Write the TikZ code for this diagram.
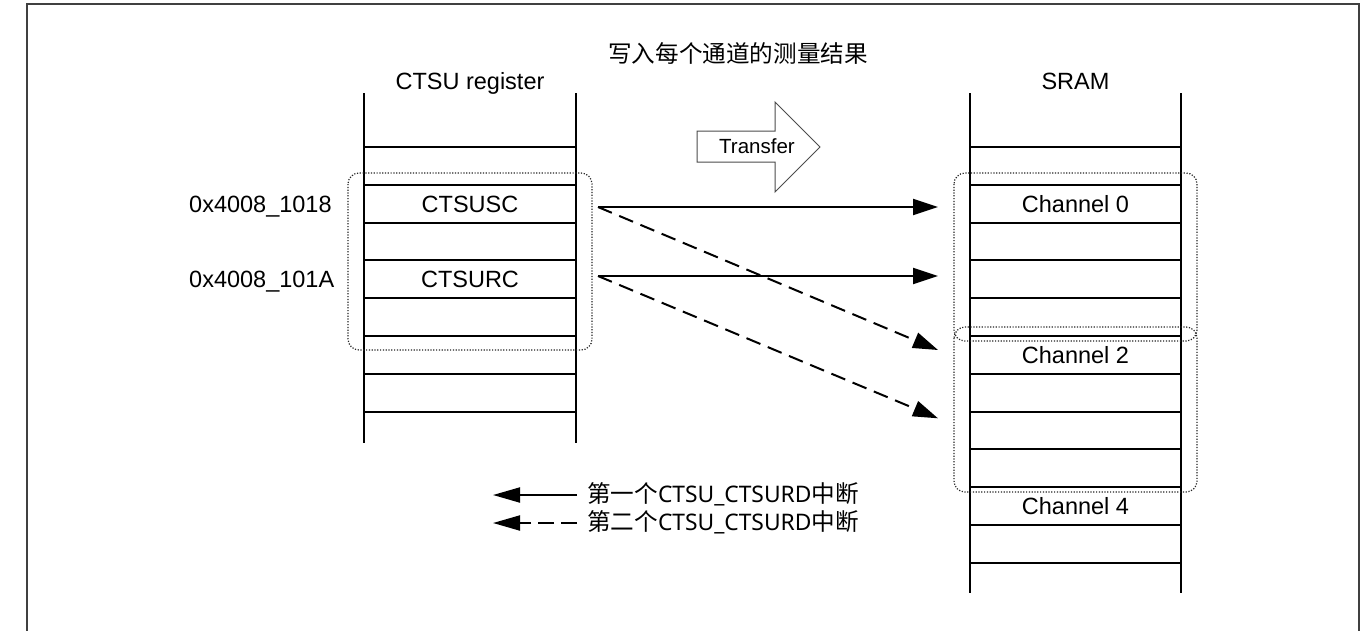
\documentclass[tikz,border=0pt]{standalone}
\usepackage{fontspec}
\setmainfont{Liberation Sans}
\newfontfamily\cjk{Noto Sans CJK SC}
\newfontfamily\leglatin{Noto Sans}
\usetikzlibrary{arrows.meta}
\begin{document}
\begin{tikzpicture}[x=1pt,y=-1pt,
  frameline/.style={draw=black!75, line width=1.5pt},
  colline/.style={draw=black, line width=2pt},
  dotbox/.style={draw=black!85, line width=1.2pt, dash pattern=on 1.2pt off 1.6pt, rounded corners=11pt},
  lbl/.style={font=\fontsize{23.5}{26}\selectfont, inner sep=0pt, text height=16.8pt, text depth=0pt},
  cjklbl/.style={font=\cjk\fontsize{23.6}{26}\selectfont, inner sep=0pt, text height=19.6pt, text depth=1.6pt},
  sarrow/.style={draw=black, line width=2pt, -{Triangle[length=25pt,width=16pt]}},
  darrow/.style={sarrow, dash pattern=on 15pt off 8pt},
  legarrow/.style={draw=black, line width=2pt, -{Triangle[length=27pt,width=15pt]}},
  legdarrow/.style={legarrow, dash pattern=on 16pt off 7pt},
  xferarrow/.style={draw=black!70, line width=1pt, fill=white},
]
\clip (0,0) rectangle (1370,630);
\fill[white] (0,0) rectangle (1370,630);
\draw[frameline] (27,640) -- (27,4) -- (1359,4) -- (1359,640);

% title
\node[cjklbl] (title) at (738,53) {写入每个通道的测量结果};

% CTSU register column
\node[lbl] (ctsuhead) at (470,81.5) {CTSU register};
\draw[colline] (364,93) -- (364,443) (576,93) -- (576,443);
\foreach \k in {0,...,7} \draw[colline] (364,{147+37.8*\k}) -- (576,{147+37.8*\k});
\node[lbl] (ctsusc) at (470,203.7) {CTSUSC};
\node[lbl] (ctsurc) at (470,279.3) {CTSURC};
\node[lbl, anchor=west] (addr1) at (189,203.7) {0x4008\_1018};
\node[lbl, anchor=west] (addr2) at (189,279.3) {0x4008\_101A};
\draw[dotbox] (348,173) rectangle (592,350);

% SRAM column
\node[lbl] (sramhead) at (1075.5,81.5) {SRAM};
\draw[colline] (970,93) -- (970,593) (1181,93) -- (1181,593);
\foreach \k in {0,...,11} \draw[colline] (970,{147+37.8*\k}) -- (1181,{147+37.8*\k});
\node[lbl] (ch0) at (1075.5,203.7) {Channel 0};
\node[lbl] (ch2) at (1075.5,354.9) {Channel 2};
\node[lbl] (ch4) at (1075.5,506.1) {Channel 4};
\draw[dotbox] (954,173) rectangle (1197,341);
\draw[dotbox] (954,327) rectangle (1197,492);

% transfer block arrow
\draw[xferarrow] (697,131) -- (775,131) -- (775,102) -- (820,147) -- (775,192) -- (775,162) -- (697,162) -- cycle;
\node[font=\fontsize{20.5}{22}\selectfont, inner sep=0pt, text height=14.7pt, text depth=0pt] (xfer) at (757,146.5) {Transfer};

% connector end points
\coordinate (scout) at (598,207);
\coordinate (rcout) at (598,276);
\coordinate (ch0in) at (938,207);
\coordinate (ch1in) at (938,276);
\coordinate (ch2in) at (938,350);
\coordinate (ch3in) at (938,418.3);
\draw[sarrow] (scout) -- (ch0in);
\draw[sarrow] (rcout) -- (ch1in);
\draw[darrow] (scout) -- (ch2in);
\draw[darrow] (rcout) -- (ch3in);

% legend
\coordinate (l1s) at (577,495);
\coordinate (l1e) at (493,495);
\coordinate (l2s) at (577,523);
\coordinate (l2e) at (493,523);
\draw[legarrow] (l1s) -- (l1e);
\draw[legdarrow] (l2s) -- (l2e);
\node[cjklbl, anchor=west] (leg1) at (587,493) {第一个{\leglatin\fontsize{22.8}{26}\selectfont CTSU\_CTSURD}中断};
\node[cjklbl, anchor=west] (leg2) at (587,521) {第二个{\leglatin\fontsize{22.8}{26}\selectfont CTSU\_CTSURD}中断};
\end{tikzpicture}
\end{document}
